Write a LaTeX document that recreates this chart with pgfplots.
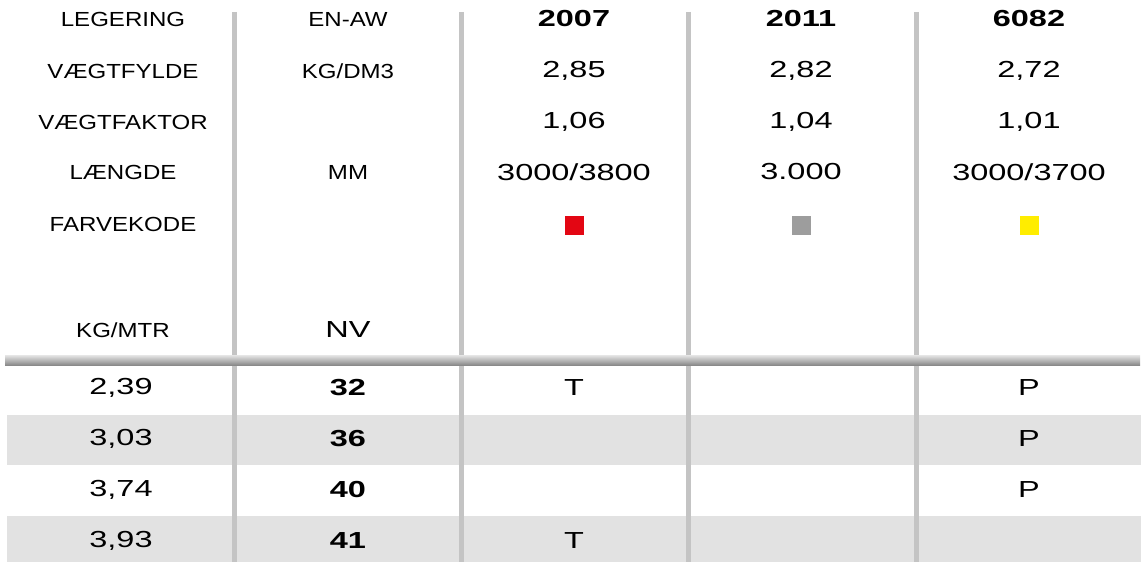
\documentclass[border=0pt]{standalone}
\usepackage{fontspec}
\setmainfont{Liberation Sans}
\newfontfamily\wf[FakeStretch=1.4]{Liberation Sans}
\newfontfamily\lf[FakeStretch=1.18]{Liberation Sans}
\usepackage{pgfplots}
\pgfplotsset{compat=1.18}
\definecolor{divc}{HTML}{C4C4C4}
\definecolor{bandc}{HTML}{E2E2E2}
\definecolor{cred}{HTML}{E30613}
\definecolor{cgray}{HTML}{9D9D9D}
\definecolor{cyel}{HTML}{FFED00}
\definecolor{rtop}{HTML}{E6E6E6}
\definecolor{rmid}{HTML}{D2D2D2}
\definecolor{rbot}{HTML}{8A8A8A}
\newcommand{\lab}{\lf\fontsize{14.5}{16}\selectfont}
\newcommand{\val}{\wf\fontsize{16.5}{18}\selectfont}
\newcommand{\bval}{\wf\bfseries\fontsize{16.5}{18}\selectfont}
\begin{document}
\begin{tikzpicture}
\begin{axis}[x=0.25mm, y=0.25mm, y dir=reverse, xmin=0, xmax=1145, ymin=0, ymax=562,
  hide axis, clip=false, scale only axis]
\addplot[draw=none] coordinates {(0,0) (1145,562)};
% shaded rows
\addplot[fill=bandc, draw=none] coordinates {(7,415) (1141,415) (1141,465) (7,465)} --cycle;
\addplot[fill=bandc, draw=none] coordinates {(7,516) (1141,516) (1141,562) (7,562)} --cycle;
% dividers
\foreach \xx in {234.5,461.5,688,916} {
  \edef\tmp{\noexpand\addplot[divc, line width=1.25mm] coordinates {(\xx,12) (\xx,562)};}\tmp
}
% thick rule
\addplot[draw=none, top color=rtop, middle color=rmid, bottom color=rbot] coordinates {(5,355) (1140,355) (1140,365) (5,365)} --cycle;
% colour codes
\addplot[only marks, mark=square*, mark size=2.3mm, cred] coordinates {(574,225.5)};
\addplot[only marks, mark=square*, mark size=2.3mm, cgray] coordinates {(801,225.5)};
\addplot[only marks, mark=square*, mark size=2.3mm, cyel] coordinates {(1029,225.5)};
% header column 1
\node at (123,19) {\lab LEGERING};
\node at (123,71) {\lab VÆGTFYLDE};
\node at (123,122) {\lab VÆGTFAKTOR};
\node at (123,172) {\lab LÆNGDE};
\node at (123,224) {\lab FARVEKODE};
\node at (123,330) {\lab KG/MTR};
% header column 2
\node at (348,19) {\lab EN-AW};
\node at (348,71) {\lab KG/DM3};
\node at (348,172) {\lab MM};
\node at (348,330) {\val NV};
% alloys
\node at (574,19) {\bval 2007};
\node at (801,19) {\bval 2011};
\node at (1029,19) {\bval 6082};
\node at (574,71) {\val 2,85};
\node at (801,71) {\val 2,82};
\node at (1029,71) {\val 2,72};
\node at (574,122) {\val 1,06};
\node at (801,122) {\val 1,04};
\node at (1029,122) {\val 1,01};
\node at (574,172) {\val 3000/3800};
\node at (801,172) {\val 3.000};
\node at (1029,172) {\val 3000/3700};
% data rows
\node at (121,388) {\val 2,39};
\node at (121,439) {\val 3,03};
\node at (121,490) {\val 3,74};
\node at (121,541) {\val 3,93};
\node at (348,388) {\bval 32};
\node at (348,439) {\bval 36};
\node at (348,490) {\bval 40};
\node at (348,541) {\bval 41};
\node at (574,388) {\val T};
\node at (574,541) {\val T};
\node at (1029,388) {\val P};
\node at (1029,439) {\val P};
\node at (1029,490) {\val P};
\end{axis}
\end{tikzpicture}
\end{document}
